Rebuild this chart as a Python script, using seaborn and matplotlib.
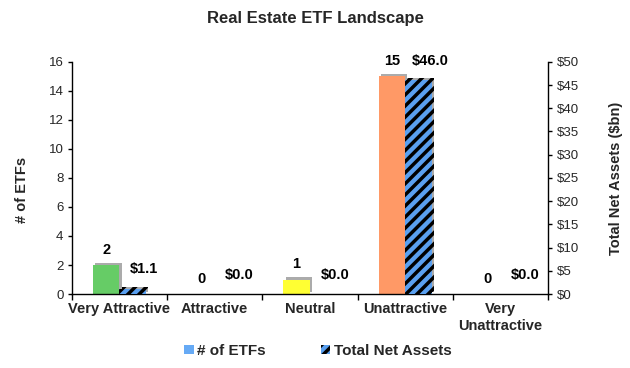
import numpy as np
import pandas as pd
import matplotlib
matplotlib.use('Agg')
import matplotlib.pyplot as plt
import matplotlib.patheffects as pe
from matplotlib.patches import Patch
from matplotlib.ticker import FuncFormatter, MultipleLocator
import seaborn as sns

# Data
categories = ['Very Attractive', 'Attractive', 'Neutral', 'Unattractive', 'Very\nUnattractive']
num_etfs = [2, 0, 1, 15, 0]
total_net_assets = [1.1, 0.0, 0.0, 46.0, 0.0]
bar_colors = ['#66CC66', '#BFBFBF', '#FFFF33', '#FF9966', '#BFBFBF']

sns.set_theme(style='white')
plt.rcParams['font.family'] = ['Liberation Sans', 'DejaVu Sans']
plt.rcParams['hatch.linewidth'] = 2.5

df = pd.DataFrame({'Category': categories, 'ETFs': num_etfs, 'TNA': total_net_assets})

fig = plt.figure(figsize=(6.3, 3.68), dpi=100)
ax = fig.add_axes([0.114, 0.201, 0.756, 0.631])

bw = 0.28
shadow = [pe.SimplePatchShadow(offset=(1.6, 1.6), shadow_rgbFace='#888888', alpha=0.7), pe.Normal()]

# Number of ETFs (left axis)
sns.barplot(data=df, x='Category', y='ETFs', hue='Category', palette=bar_colors,
            legend=False, width=bw, ax=ax, saturation=1, linewidth=0)
for p in ax.patches:
    p.set_x(p.get_x() - bw / 2)
    p.set_path_effects(shadow)

# Total net assets (right axis)
ax2 = ax.twinx()
sns.barplot(data=df, x='Category', y='TNA', color='#5AA0F0', width=bw, ax=ax2,
            saturation=1, linewidth=0, edgecolor='black')
for p in ax2.patches:
    p.set_x(p.get_x() + bw / 2)
    p.set_hatch('///')
    p.set_edgecolor('black')
    p.set_linewidth(0)
    p.set_path_effects(shadow)

ax.set_ylim(0, 16)
ax.yaxis.set_major_locator(MultipleLocator(2))
ax2.set_ylim(0, 50)
ax2.yaxis.set_major_locator(MultipleLocator(5))
ax2.yaxis.set_major_formatter(FuncFormatter(lambda v, _: f'${v:.0f}'))
ax.set_xlim(-0.5, len(categories) - 0.5)

# Value labels
for i, v in enumerate(num_etfs):
    ax.annotate(f'{v}', (i - bw / 2, v), xytext=(0, 6), textcoords='offset points',
                ha='center', va='bottom', fontsize=10.5, fontweight='bold', color='black')
for i, v in enumerate(total_net_assets):
    ax2.annotate(f'${v:.1f}', (i + bw / 2 + 0.12, v), xytext=(0, 9), textcoords='offset points',
                 ha='center', va='bottom', fontsize=10.5, fontweight='bold', color='black')

# Axes styling
for a in (ax, ax2):
    for s in a.spines.values():
        s.set_visible(False)
ax.spines['left'].set_visible(True)
ax.spines['bottom'].set_visible(True)
ax2.spines['right'].set_visible(True)
for s in (ax.spines['left'], ax.spines['bottom'], ax2.spines['right']):
    s.set_color('black')
    s.set_linewidth(1.0)

ax.set_xticks(np.arange(len(categories)))
ax.set_xticklabels(categories, fontsize=10.5, fontweight='bold')
ax.set_xticks(np.arange(len(categories) + 1) - 0.5, minor=True)
ax.tick_params(axis='x', which='major', length=0, pad=6)
ax.tick_params(axis='x', which='minor', length=4, width=1, color='black', direction='out', bottom=True)
ax.tick_params(axis='y', labelsize=9.5, length=3, width=1, color='black', direction='out', left=True, pad=3)
ax2.tick_params(axis='y', labelsize=9.5, length=3, width=1, color='black', direction='out', right=True, pad=3)

ax.set_xlabel('')
ax.set_ylabel('# of ETFs', fontsize=10.5, fontweight='bold')
ax.yaxis.set_label_coords(-0.09, 0.45)
ax2.set_ylabel('Total Net Assets ($bn)', fontsize=10.5, fontweight='bold', labelpad=22)
ax.grid(False)
ax2.grid(False)

fig.suptitle('Real Estate ETF Landscape', fontsize=12, fontweight='bold', y=0.97)

handles = [Patch(facecolor='#66AAF5', edgecolor='none', label='# of ETFs'),
           Patch(facecolor='#5AA0F0', edgecolor='black', hatch='///', linewidth=0, label='Total Net Assets')]
fig.legend(handles=handles, loc='lower center', bbox_to_anchor=(0.505, -0.01), ncol=2,
           frameon=False, handlelength=0.6, handleheight=0.6,
           handletextpad=0.25, columnspacing=3.6, prop={'weight': 'bold', 'size': 11})

fig.savefig('out.png', dpi=100, facecolor='white')
